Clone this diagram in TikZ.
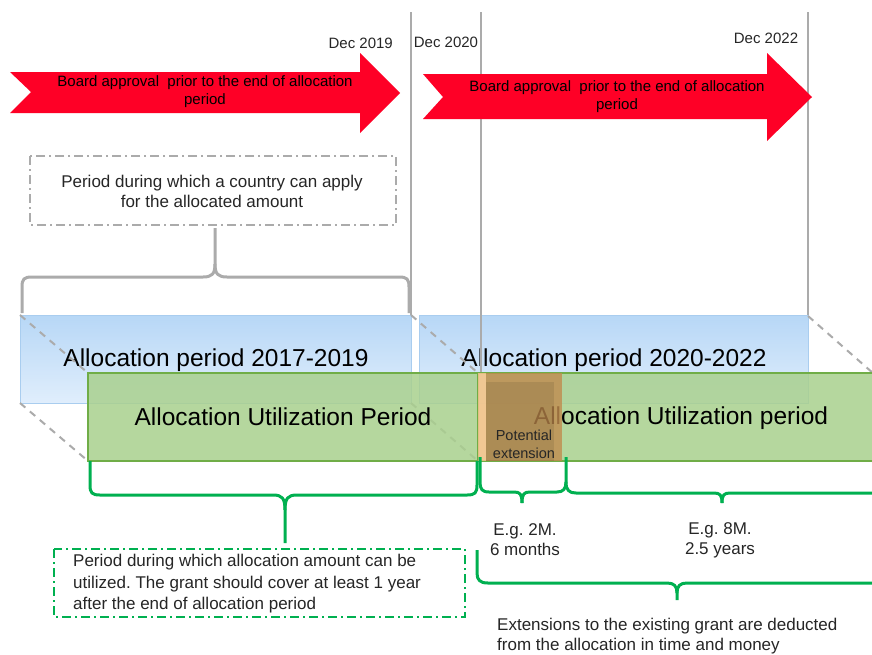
\documentclass[tikz,border=0pt]{standalone}
\usepackage{fontspec}
\setmainfont{Liberation Sans}
\frenchspacing
\definecolor{redarrow}{HTML}{FE0026}
\definecolor{txtgray}{HTML}{262626}
\definecolor{linegray}{HTML}{ABABAB}
\definecolor{bluetop}{HTML}{B7D7F6}
\definecolor{bluebot}{HTML}{E0EEFC}
\definecolor{bluebd}{HTML}{A9CDEF}
\definecolor{greenfill}{HTML}{A9D08E}
\definecolor{greenbd}{HTML}{70AD47}
\definecolor{bracegreen}{HTML}{00B050}
\definecolor{orstrip}{HTML}{FFC491}
\definecolor{ormain}{HTML}{C18B4E}
\newcommand{\setfs}[2]{\fontsize{#1}{#2}\selectfont}
\begin{document}
\frenchspacing
\begin{tikzpicture}[x=1pt,y=-1pt,
  txt/.style={inner sep=0pt, text=txtgray, align=center},
  arrowtxt/.style={inner sep=0pt, text=black, align=center, font=\setfs{15}{18}},
  datetxt/.style={inner sep=0pt, text=txtgray, font=\setfs{15}{18}},
  bigtxt/.style={inner sep=0pt, text=black, font=\setfs{24.5}{28}},
  redshape/.style={fill=redarrow, draw=none},
  vline/.style={draw=linegray, line width=2.5pt},
  bluebox/.style={top color=bluetop, bottom color=bluebot, draw=bluebd, line width=1pt},
  greenbox/.style={fill=greenfill, fill opacity=0.85, draw=greenbd, line width=2pt},
  persp/.style={draw=linegray, line width=2pt, dash pattern=on 7pt off 6pt},
  graybrace/.style={draw=linegray, line width=3pt},
  greenbrace/.style={draw=bracegreen, line width=3pt},
  dashdot/.style={line width=2pt, dash pattern=on 9pt off 4pt on 2pt off 4pt}]
\useasboundingbox (0,0) rectangle (872,654);
\begin{scope}
\clip (0,0) rectangle (872,654);
\fill[white] (0,0) rectangle (872,654);

% vertical lines (behind the arrows)
\coordinate (v1t) at (411,12); \coordinate (v1b) at (411,315);
\coordinate (v2t) at (481,12); \coordinate (v2m) at (481,300); \coordinate (v2b) at (481,373);
\coordinate (v3t) at (808,12); \coordinate (v3b) at (808,316);
\draw[vline] (v1t) -- (v1b);
\draw[vline] (v2t) -- (v2b);
\draw[vline] (v3t) -- (v3b);

% red arrows
\path[redshape] (10,72) -- (360,72) -- (360,53) -- (400,93) -- (360,133) -- (360,113) -- (10,113) -- (31,92) -- cycle;
\path[redshape] (423,74) -- (767,74) -- (767,53) -- (812,97) -- (767,141) -- (767,119) -- (423,119) -- (443,97) -- cycle;
\node[arrowtxt] (arrow1) at (205,92) {Board approval\ \ prior to the end of allocation\\period};
\node[arrowtxt] (arrow2) at (617,97) {Board approval\ \ prior to the end of allocation\\period};

% date labels
\node[datetxt, anchor=east] (d2019) at (393,43) {Dec 2019};
\node[datetxt] (d2020) at (446,42) {Dec 2020};
\node[datetxt] (d2022) at (766,38) {Dec 2022};

% gray dash-dot box
\draw[dashdot, draw=linegray] (30,156) rectangle (396,225);
\node[txt, font=\setfs{17}{20}] (applytxt) at (212,191) {Period during which a country can apply\\for the allocated amount};

% gray brace
\coordinate (gbL) at (22,313);
\coordinate (gbR) at (409,313);
\coordinate (gbT) at (215,228);
\draw[graybrace, line join=round] (gbL) -- (22,287) .. controls (22,279) and (24,277) .. (32,277) -- (203,277) .. controls (212,277) and (215,274) .. (215,264) -- (gbT);
\draw[graybrace, line join=round] (215,264) .. controls (215,274) and (218,277) .. (227,277) -- (399,277) .. controls (407,277) and (409,279) .. (409,287) -- (gbR);

% blue boxes
\path[bluebox] (20,315) rectangle (411,403);
\path[bluebox] (419,315) rectangle (808,403);
\node[bigtxt] (ap1) at (216,360) {Allocation period 2017-2019};
\node[bigtxt] (ap2) at (614,360) {Allocation period 2020-2022};
\draw[vline] (v2m) -- (v2b);

% perspective dashed lines
\draw[persp] (20,315) -- (88,373);
\draw[persp] (20,403) -- (88,461);
\draw[persp] (411,315) -- (478,373);
\draw[persp] (411,403) -- (478,461);
\draw[persp] (808,316) -- (874,374);

% green boxes
\path[greenbox] (88,373) rectangle (478,461);
\path[greenbox] (478,373) rectangle (890,461);
\node[bigtxt] (au1) at (283,417) {Allocation Utilization Period};
\node[bigtxt] (au2) at (681,418) {Allocation Utilization period};

% potential extension
\fill[orstrip, opacity=0.8] (478,373) rectangle (486,461);
\fill[ormain, opacity=0.8] (486,373) rectangle (562,461);
\fill[black, opacity=0.09] (486,382) rectangle (554,461);
\node[txt, text=black!85, font=\setfs{14.5}{18}] (potext) at (524,444) {Potential\\extension};

% green braces
\draw[greenbrace, line join=round] (90,461) -- (90,485) .. controls (90,493) and (92,495) .. (100,495) -- (273,495) .. controls (282,495) and (285,498) .. (285,510) -- (285,543);
\draw[greenbrace, line join=round] (285,510) .. controls (285,498) and (288,495) .. (297,495) -- (467,495) .. controls (475,495) and (477,493) .. (477,485) -- (477,461);

\draw[greenbrace, line join=round] (480,457) -- (480,482) .. controls (480,489) and (482,492) .. (489,492) -- (514,492) .. controls (520,492) and (522,494) .. (522,503);
\draw[greenbrace, line join=round] (522,503) .. controls (522,494) and (524,492) .. (530,492) -- (557,492) .. controls (563,492) and (566,489) .. (566,482) -- (566,457);
\draw[greenbrace, line join=round] (566,482) .. controls (566,490) and (569,493) .. (576,493) -- (714,493) .. controls (720,493) and (722,495) .. (722,503);
\draw[greenbrace, line join=round] (722,503) .. controls (722,495) and (724,493) .. (730,493) -- (880,493);

\draw[greenbrace, line join=round] (477,550) -- (477,573) .. controls (477,580) and (480,583) .. (488,583) -- (667,583) .. controls (674,583) and (677,586) .. (677,593) -- (677,600);
\draw[greenbrace, line join=round] (677,593) .. controls (677,586) and (680,583) .. (687,583) -- (880,583);

\node[txt, font=\setfs{17}{20}] (eg1) at (525,540) {E.g. 2M.\\6 months};
\node[txt, font=\setfs{17}{20}] (eg2) at (720,540) {E.g. 8M.\\2.5 years};

% green dash-dot box
\draw[dashdot, draw=bracegreen] (54,549) rectangle (465,617);
\node[txt, anchor=west, align=left, font=\setfs{17}{21.5}] (utiltxt) at (73,584) {Period during which allocation amount can be\\utilized. The grant should cover at least 1 year\\after the end of allocation period};

\node[txt, anchor=west, align=left, font=\setfs{17}{20}] (exttxt) at (497,636) {Extensions to the existing grant are deducted\\from the allocation in time and money};
\end{scope}
\end{tikzpicture}
\end{document}
